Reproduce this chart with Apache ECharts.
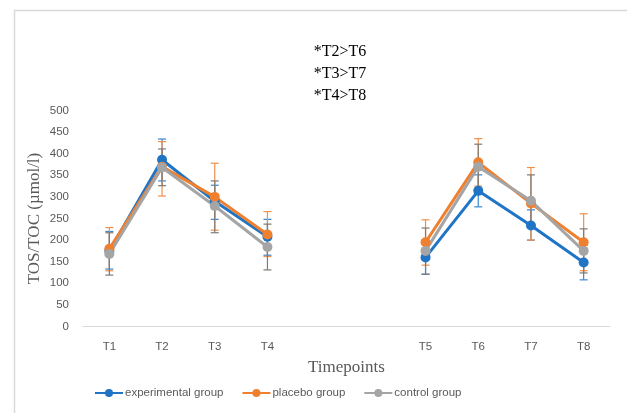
<!DOCTYPE html>
<html><head><meta charset="utf-8">
<script src="https://cdn.jsdelivr.net/npm/echarts@6/dist/echarts.min.js"></script>
<style>html,body{margin:0;padding:0;background:#fff}#c{width:627px;height:413px}</style>
</head><body><div id="c"></div>
<script>
const categories = ['T1','T2','T3','T4','','','T5','T6','T7','T8'];
const yTicks = [0,50,100,150,200,250,300,350,400,450,500];
const expMean = [175, 386, 290, 208, null, null, 160, 314, 234, 148];
const expLow  = [133, 337, 248, 165, null, null, 121, 277, 200, 108];
const expHigh = [220, 434, 327, 248, null, null, 200, 351, 270, 188];
const plaMean = [180, 370, 300, 213, null, null, 195, 380, 285, 195];
const plaLow  = [129, 302, 223, 162, null, null, 142, 325, 200, 129];
const plaHigh = [229, 428, 378, 266, null, null, 247, 435, 368, 261];
const conMean = [168, 368, 279, 184, null, null, 175, 370, 291, 175];
const conLow  = [119, 326, 217, 131, null, null, 121, 318, 231, 124];
const conHigh = [217, 411, 337, 237, null, null, 228, 422, 351, 226];
const notes = ['*T2>T6','*T3>T7','*T4>T8'];

const colors = {exp:'#1f74c6', pla:'#f07f2e', con:'#a5a5a5'};
const errColors = {exp:'#3a86cf', pla:'#f0904a', con:'#7f7a74'};

function errData(lo, hi){
  const out=[];
  lo.forEach((v,i)=>{ if(v!=null) out.push([i, v, hi[i]]); });
  return out;
}
function errSeries(lo, hi, color){
  return {
    type:'custom', silent:true, z:1,
    data: errData(lo,hi),
    encode:{x:0, y:[1,2]},
    renderItem:function(params, api){
      const x=api.value(0);
      const p1=api.coord([x, api.value(1)]);
      const p2=api.coord([x, api.value(2)]);
      const w=4;
      const st={stroke:color, lineWidth:1.2};
      return {type:'group', children:[
        {type:'line', shape:{x1:p1[0],y1:p1[1],x2:p2[0],y2:p2[1]}, style:st},
        {type:'line', shape:{x1:p1[0]-w,y1:p1[1],x2:p1[0]+w,y2:p1[1]}, style:st},
        {type:'line', shape:{x1:p2[0]-w,y1:p2[1],x2:p2[0]+w,y2:p2[1]}, style:st}
      ]};
    }
  };
}
function lineSeries(name, data, color){
  return {name:name, type:'line', data:data, z:3, color:color,
    symbol:'circle', symbolSize:10, connectNulls:false,
    lineStyle:{width:3, color:color}, itemStyle:{color:color}};
}

const noteGraphics = notes.map((t,i)=>({
  type:'text', x:340, y:52+22*i,
  style:{text:t, font:'16px "Liberation Serif", serif', fill:'#000', align:'center', verticalAlign:'middle'}
}));

const chart = echarts.init(document.getElementById('c'));
chart.setOption({
  animation:false,
  grid:{left:83, right:17, top:110.5, bottom:86.5},
  graphic:[
    {type:'rect', shape:{x:14.5,y:10.5,width:640,height:420}, style:{fill:'none', stroke:'#d9d9d9', lineWidth:1.5}}
  ].concat(noteGraphics),
  legend:{
    top:382, left:89, itemWidth:28, itemHeight:10, itemGap:18,
    textStyle:{color:'#595959', fontSize:11.5, fontFamily:'"Liberation Sans", sans-serif', padding:[0,0,0,-3]},
    data:['experimental group','placebo group','control group']
  },
  xAxis:{
    type:'category', data:categories, boundaryGap:true,
    name:'Timepoints', nameLocation:'middle', nameGap:33,
    nameTextStyle:{fontFamily:'"Liberation Serif", serif', fontSize:17, color:'#595959'},
    axisLine:{lineStyle:{color:'#d9d9d9', width:1}},
    axisTick:{show:false},
    axisLabel:{color:'#595959', fontSize:11.5, margin:14, fontFamily:'"Liberation Sans", sans-serif', interval:0}
  },
  yAxis:{
    type:'value', min:yTicks[0], max:yTicks[yTicks.length-1], interval:50,
    name:'TOS/TOC (µmol/l)', nameLocation:'middle', nameGap:40, nameRotate:90, nameMoveOverlap:false,
    nameTextStyle:{fontFamily:'"Liberation Serif", serif', fontSize:17, color:'#595959'},
    axisLine:{show:false}, axisTick:{show:false}, splitLine:{show:false},
    axisLabel:{color:'#595959', fontSize:11.5, margin:14, fontFamily:'"Liberation Sans", sans-serif'}
  },
  series:[
    errSeries(expLow, expHigh, errColors.exp),
    errSeries(plaLow, plaHigh, errColors.pla),
    errSeries(conLow, conHigh, errColors.con),
    lineSeries('experimental group', expMean, colors.exp),
    lineSeries('placebo group', plaMean, colors.pla),
    lineSeries('control group', conMean, colors.con)
  ]
});
</script></body></html>
